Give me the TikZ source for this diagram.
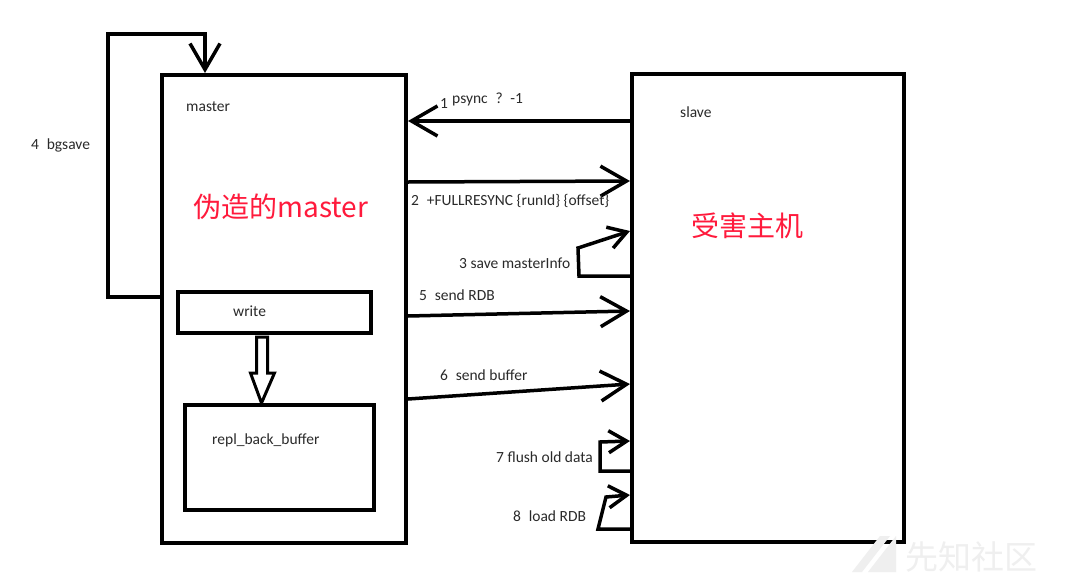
\documentclass[tikz,border=0pt]{standalone}
\usepackage{fontspec}
\setmainfont{Carlito}
\newfontfamily\cjk{Noto Sans CJK SC}
\usetikzlibrary{arrows.meta,calc}
\definecolor{redtxt}{HTML}{FF1A3C}
\definecolor{lbl}{HTML}{2A2A2A}
\definecolor{wm}{HTML}{EFEFEF}
\tikzset{
  bigbox/.style={draw, line width=4pt, rectangle, minimum width=#1, inner sep=0pt},
  arr/.style={line width=3.5pt, -{Straight Barb[length=26pt,width=30pt,line width=3.5pt]}},
  sarr/.style={line width=3.5pt, -{Straight Barb[length=18pt,width=22pt,line width=3.5pt]}, line join=miter},
  lab/.style={font=\fontsize{15.5}{18}\selectfont, text=lbl, inner sep=0pt, anchor=west},
  bigred/.style={font=\cjk\fontsize{28}{32}\selectfont, text=redtxt, inner sep=0pt},
}
\begin{document}
\begin{tikzpicture}[x=1pt,y=-1pt]
\useasboundingbox[fill=white] (0,0) rectangle (1080,584);
% boxes
\node[bigbox=244pt, minimum height=468pt] (master) at (284,309) {};
\node[bigbox=272pt, minimum height=468pt] (slave) at (768,308) {};
\node[bigbox=193pt, minimum height=41pt] (write) at (274.5,312.5) {};
\node[bigbox=189pt, minimum height=105pt] (repl) at (279.5,457.5) {};
% texts in boxes
\node[lab] (tmaster) at (186,107) {master};
\node[lab] (tslave) at (680,112) {slave};
\node[lab] (twrite) at (233,311) {write};
\node[lab] (trepl) at (212,440) {repl\_back\_buffer};
\node[bigred] (fake) at (281,207) {伪造的master};
\node[bigred] (victim) at (747,226) {受害主机};
% hollow arrow write -> repl
\draw[line width=3pt, line join=miter]
  ($(write.south)+(-18,2)$) coordinate (ha1)
  -- ($(write.south)+(-18,38)$) -- ($(write.south)+(-24,38)$)
  -- ($(repl.north)+(-18,0)$) coordinate (ha2)
  -- ($(write.south)+(0,38)$) -- ($(write.south)+(-7,38)$)
  -- ($(write.south)+(-7,2)$) -- cycle;
% 4 bgsave loop
\coordinate (b1) at (108,297);
\coordinate (b2) at (108,34);
\coordinate (b3) at (205,34);
\draw[arr, line join=miter] (master.west |- b1) -- (b1) -- (b2) -- (b3) -- (master.north -| b3);
\node[lab] (l4) at (31,145) {4\enspace bgsave};
% 1 psync
\draw[arr] (slave.west |- 0,121) -- (master.east |- 0,121);
\node[lab] (l1a) at (440,104) {1};
\node[lab] (l1b) at (452,99) {psync\enspace ?\enspace -1};
% 2 FULLRESYNC
\draw[arr] (master.east |- 0,182) -- (slave.west |- 0,181);
\node[lab] (l2) at (411,201) {2\enspace +FULLRESYNC \{runId\} \{offset\}};
% 3 save masterInfo
\coordinate (c3a) at (579,276);
\coordinate (c3b) at (578,248);
\draw[sarr] (slave.west |- c3a) -- (c3a) -- (c3b) -- (slave.west |- 0,231);
\node[lab] (l3) at (459,263) {3 save masterInfo};
% 5 send RDB
\draw[arr] (master.east |- 0,316) -- (slave.west |- 0,311);
\node[lab] (l5) at (419,295) {5\enspace send RDB};
% 6 send buffer
\draw[arr] (master.east |- 0,399) -- (slave.west |- 0,384);
\node[lab] (l6) at (440,375) {6\enspace send buffer};
% 7 flush old data
\coordinate (c7a) at (600,471);
\coordinate (c7b) at (600,442);
\draw[sarr] (slave.west |- c7a) -- (c7a) -- (c7b) -- (slave.west |- 0,441);
\node[lab] (l7) at (496,457) {7 flush old data};
% 8 load RDB
\coordinate (c8a) at (598,529);
\coordinate (c8b) at (606,497);
\draw[sarr] (slave.west |- c8a) -- (c8a) -- (c8b) -- (slave.west |- 0,495);
\node[lab] (l8) at (513,516) {8\enspace load RDB};
% watermark
\fill[wm] (852,572) -- (880,536) -- (890,536) -- (862,572) -- cycle;
\fill[wm] (868,572) -- (896,536) -- (896,572) -- cycle;
\node[font=\cjk\fontsize{33}{36}\selectfont, text=wm, inner sep=0pt, anchor=west] (wmt) at (905,557) {先知社区};
\end{tikzpicture}
\end{document}
